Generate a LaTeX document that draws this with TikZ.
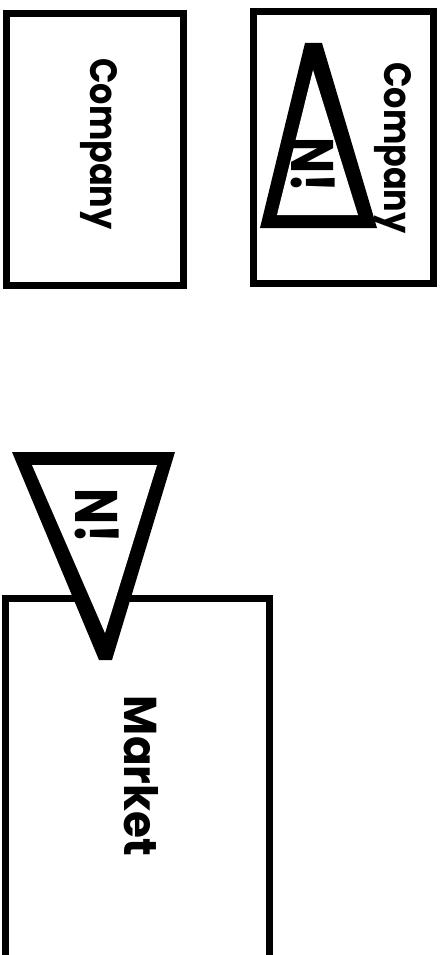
\documentclass[tikz,border=0pt]{standalone}
\usepackage{fontspec}
\newfontfamily\popb{Poppins}[UprightFont={* Bold}]
\begin{document}
\begin{tikzpicture}[x=1pt,y=-1pt,
  frame/.style={draw=black, line width=7pt, line join=miter},
  lbl/.style={font=\popb, rotate=-90, inner sep=0pt, text=black},
  warnout/.style={fill=black},
  warnin/.style={fill=white}]
\useasboundingbox (0,0) rectangle (441,955);
\clip (0,0) rectangle (441,955);
\fill[white] (0,0) rectangle (441,955);
% left company box
\draw[frame] (6.5,13.5) rectangle (183.5,285);
\node[lbl, font=\popb\fontsize{38}{38}\selectfont, xscale=0.88] (c1) at (98.5,144) {Company};
% right company box
\draw[frame] (253.5,11.5) rectangle (433.5,283);
\fill[warnout] (305,43) -- (322,43) -- (377,228) -- (260,228) -- cycle;
\fill[warnin] (313,70) -- (358,215) -- (277,215) -- cycle;
\node[lbl, font=\popb\fontsize{38}{38}\selectfont, xscale=0.88] (c2) at (392.5,148) {Company};
\node[lbl, font=\popb\fontsize{60}{60}\selectfont, xscale=0.8] (n1) at (313,165) {N!};
% market box
\draw[frame] (5,598) rectangle (269,990);
\node[lbl, font=\popb\fontsize{46}{46}\selectfont, xscale=0.95] (m) at (141.5,776) {Market};
\fill[warnout] (12,452) -- (175,452) -- (112,660) -- (99,660) -- cycle;
\fill[warnin] (32,465) -- (157,465) -- (105,633) -- cycle;
\node[lbl, font=\popb\fontsize{60}{60}\selectfont, xscale=0.8] (n2) at (97.5,516) {N!};
\end{tikzpicture}
\end{document}
